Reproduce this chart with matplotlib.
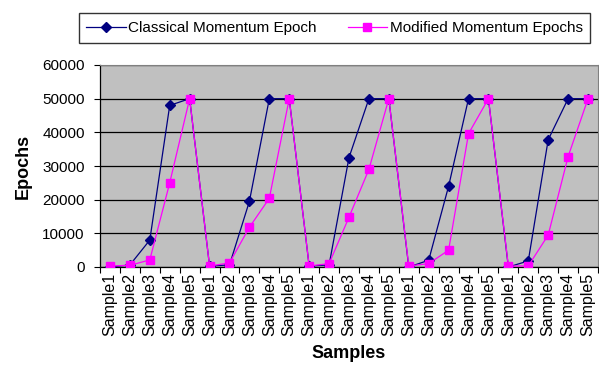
import numpy as np
import matplotlib
matplotlib.use("Agg")
import matplotlib.pyplot as plt
from matplotlib.ticker import MultipleLocator

plt.rcParams['font.family'] = ['Liberation Sans', 'DejaVu Sans']

# --- data ---
labels = ["Sample1", "Sample2", "Sample3", "Sample4", "Sample5"] * 5
classical = [0, 600, 8000, 48000, 50000,
             300, 600, 19500, 50000, 50000,
             300, 600, 32500, 50000, 50000,
             0, 2000, 24000, 50000, 50000,
             0, 1800, 37800, 50000, 50000]
modified = [300, 500, 2100, 25000, 50000,
            300, 1200, 11800, 20400, 50000,
            300, 1000, 14800, 29000, 50000,
            300, 1000, 5000, 39600, 50000,
            300, 300, 9500, 32800, 50000]
y_ticks = [0, 10000, 20000, 30000, 40000, 50000, 60000]

# --- plot ---
W, H = 599, 365
fig = plt.figure(figsize=(W / 100, H / 100), dpi=100)
ax = fig.add_axes([100 / W, 1 - 267 / H, 498 / W, 202 / H])
ax.set_facecolor("#C0C0C0")

x = np.arange(len(labels))
ax.plot(x, classical, color="#000080", lw=0.9, marker="D", ms=4.6,
        label="Classical Momentum Epoch", zorder=3)
ax.plot(x, modified, color="#FF00FF", lw=0.9, marker="s", ms=5.6,
        label="Modified Momentum Epochs", zorder=4)

ax.set_xlim(-0.5, len(labels) - 0.5)
ax.set_ylim(0, 60000)
ax.set_yticks(y_ticks)
ax.set_yticklabels([str(v) for v in y_ticks], fontsize=11)
ax.set_xticks(x)
ax.set_xticklabels(labels, rotation=90, fontsize=11.5)
ax.xaxis.set_minor_locator(MultipleLocator(1, offset=0.5))
ax.tick_params(axis="x", which="major", length=0, pad=4.5)
ax.tick_params(axis="x", which="minor", length=4, width=0.8, direction="out")
ax.tick_params(axis="y", length=4, width=0.8, direction="out", pad=7)

ax.grid(axis="y", color="black", lw=0.9, zorder=1)
ax.set_axisbelow(True)
for s in ["top", "right"]:
    ax.spines[s].set_color("#808080")
for s in ["left", "bottom"]:
    ax.spines[s].set_color("black")
    ax.spines[s].set_linewidth(0.9)

fig.text(23 / W, 1 - 166 / H, "Epochs", rotation=90, ha="center", va="center",
         fontsize=13, fontweight="bold")
fig.text(349 / W, 1 - 354 / H, "Samples", ha="center", va="center",
         fontsize=13, fontweight="bold")

leg = fig.legend(loc="center", bbox_to_anchor=((79 + 590) / 2 / W, 1 - 28 / H),
                 ncol=2, fontsize=11, frameon=True, fancybox=False,
                 edgecolor="black", handlelength=2.6, handletextpad=0.15,
                 columnspacing=2.0, borderpad=0.5, borderaxespad=0)
leg.get_frame().set_linewidth(1.0)

fig.savefig("out.png", dpi=100)
